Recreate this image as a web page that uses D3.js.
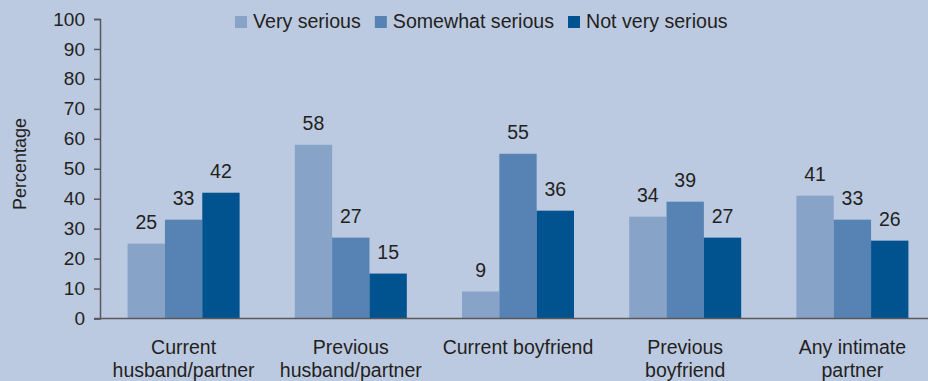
<!DOCTYPE html>
<html>
<head>
<meta charset="utf-8">
<script src="https://cdn.jsdelivr.net/npm/d3@7"></script>
<style>
  html, body { margin: 0; padding: 0; background: #bccae1; }
  svg { display: block; }
  text { font-family: "Liberation Sans", Arial, Helvetica, sans-serif; fill: #231f20; }
</style>
</head>
<body>
<svg id="chart" width="928" height="381"></svg>
<script>
// Perceived seriousness of the incident, by relationship to the perpetrator
const categories = [
  ["Current", "husband/partner"],
  ["Previous", "husband/partner"],
  ["Current boyfriend"],
  ["Previous", "boyfriend"],
  ["Any intimate", "partner"]
];
const seriesNames = ["Very serious", "Somewhat serious", "Not very serious"];
const verySerious     = [25, 58, 9, 34, 41];
const somewhatSerious = [33, 27, 55, 39, 33];
const notVerySerious  = [42, 15, 36, 27, 26];
const yTicks = [0, 10, 20, 30, 40, 50, 60, 70, 80, 90, 100];
const colors = ["#87a3c8", "#5683b3", "#00538f"];

const seriesValues = [verySerious, somewhatSerious, notVerySerious];
const catKeys = categories.map(c => c.join(" "));

const svg = d3.select("#chart");
const W = 928, H = 381;

svg.append("rect").attr("width", W).attr("height", H).attr("fill", "#bccae1");

const x0 = d3.scaleBand().domain(catKeys).range([100, 936])
  .paddingInner(0.33).paddingOuter(0.165);
const x1 = d3.scaleBand().domain(seriesNames).range([0, x0.bandwidth()]);
const y = d3.scaleLinear().domain([0, 100]).range([318.5, 19]);

// Y axis
const yAxis = svg.append("g")
  .attr("transform", "translate(100,0)")
  .call(d3.axisLeft(y).tickValues(yTicks).tickSize(6).tickPadding(9))
  .attr("font-size", 19)
  .attr("font-family", "'Liberation Sans', Arial, sans-serif");
yAxis.select(".domain").attr("stroke", "#58595b").attr("stroke-width", 1.5);
yAxis.selectAll(".tick line").attr("stroke", "#58595b").attr("stroke-width", 1.5);
yAxis.selectAll(".tick text").attr("fill", "#231f20");

// Y axis title
svg.append("text")
  .attr("transform", "translate(26,164) rotate(-90)")
  .attr("text-anchor", "middle")
  .attr("font-size", 18)
  .text("Percentage");

// Bars
const groups = svg.append("g").selectAll("g")
  .data(catKeys)
  .join("g")
  .attr("transform", d => `translate(${x0(d)},0)`);

groups.selectAll("rect")
  .data((d, i) => seriesNames.map((s, j) => ({ s, v: seriesValues[j][i], j })))
  .join("rect")
  .attr("x", d => x1(d.s))
  .attr("width", x1.bandwidth())
  .attr("y", d => y(d.v))
  .attr("height", d => y(0) - y(d.v))
  .attr("fill", d => colors[d.j]);

// Value labels
groups.selectAll("text.val")
  .data((d, i) => seriesNames.map((s, j) => ({ s, v: seriesValues[j][i], j })))
  .join("text")
  .attr("class", "val")
  .attr("x", d => x1(d.s) + x1.bandwidth() / 2)
  .attr("y", d => y(d.v) - 15)
  .attr("text-anchor", "middle")
  .attr("font-size", 19.5)
  .text(d => d.v);

// X axis line
svg.append("line")
  .attr("x1", 94).attr("x2", W)
  .attr("y1", y(0)).attr("y2", y(0))
  .attr("stroke", "#58595b").attr("stroke-width", 1.5);

// Category labels
categories.forEach((lines, i) => {
  const cx = x0(catKeys[i]) + x0.bandwidth() / 2;
  const t = svg.append("text")
    .attr("text-anchor", "middle")
    .attr("font-size", 19.5);
  lines.forEach((ln, k) => {
    t.append("tspan").attr("x", cx).attr("y", 354 + k * 23).text(ln);
  });
});

// Legend
const legend = svg.append("g");
let lx = 235;
seriesNames.forEach((name, j) => {
  const g = legend.append("g").attr("transform", `translate(${lx},0)`);
  g.append("rect").attr("x", 0).attr("y", 16).attr("width", 12).attr("height", 12)
    .attr("fill", colors[j]);
  const t = g.append("text").attr("x", 18).attr("y", 28)
    .attr("font-size", 19.6).text(name);
  lx += 18 + t.node().getComputedTextLength() + 14;
});
</script>
</body>
</html>
